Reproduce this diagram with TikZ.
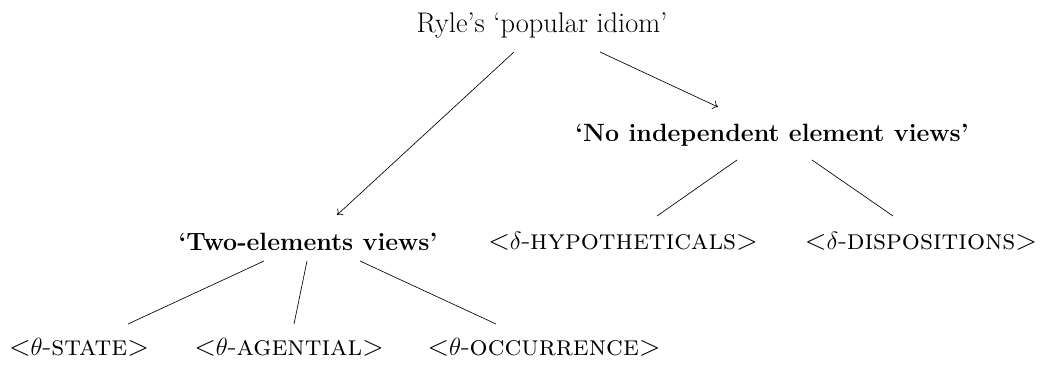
\documentclass[tikz,border=0pt]{standalone}
\usetikzlibrary{calc,arrows.meta}
\begin{document}
\begin{tikzpicture}[x=1pt,y=-1pt,
  lbl/.style={inner sep=0pt,anchor=base,font=\fontsize{28.4}{34}\selectfont},
  hd/.style={inner sep=0pt,anchor=base,font=\fontsize{25}{30}\selectfont\bfseries},
  edge/.style={line width=0.65pt},
  arr/.style={edge,-{To[length=5pt,width=9pt]}}]
\useasboundingbox (0,0) rectangle (1049,365);
\node[lbl] (root) at (542,32) {Ryle's `popular idiom'};
\node[hd] (no) at (772,141) {`No independent element views'};
\node[hd] (two) at (308,250) {`Two-elements views'};
\node[lbl] (hyp) at (623,249) {\textless$\delta$-\textsc{hypotheticals}\textgreater};
\node[lbl] (dis) at (921,249) {\textless$\delta$-\textsc{dispositions}\textgreater};
\node[lbl] (st) at (79,355) {\textless$\theta$-\textsc{state}\textgreater};
\node[lbl] (ag) at (289,355) {\textless$\theta$-\textsc{agential}\textgreater};
\node[lbl] (oc) at (544,355) {\textless$\theta$-\textsc{occurrence}\textgreater};
\draw[arr] ($(root.base)+(-28,20)$) -- ($(two.base)+(29,-35)$);
\draw[arr] ($(root.base)+(58,20)$) -- ($(no.base)+(-54,-34)$);
\draw[edge] ($(no.base)+(-35,19)$) -- ($(hyp.base)+(34,-33)$);
\draw[edge] ($(no.base)+(40,19)$) -- ($(dis.base)+(-28,-33)$);
\draw[edge] ($(two.base)+(-44,11)$) -- ($(st.base)+(49,-31)$);
\draw[edge] ($(two.base)+(-1,11)$) -- ($(ag.base)+(5,-31)$);
\draw[edge] ($(two.base)+(52,11)$) -- ($(oc.base)+(-48,-31)$);
\end{tikzpicture}
\end{document}
